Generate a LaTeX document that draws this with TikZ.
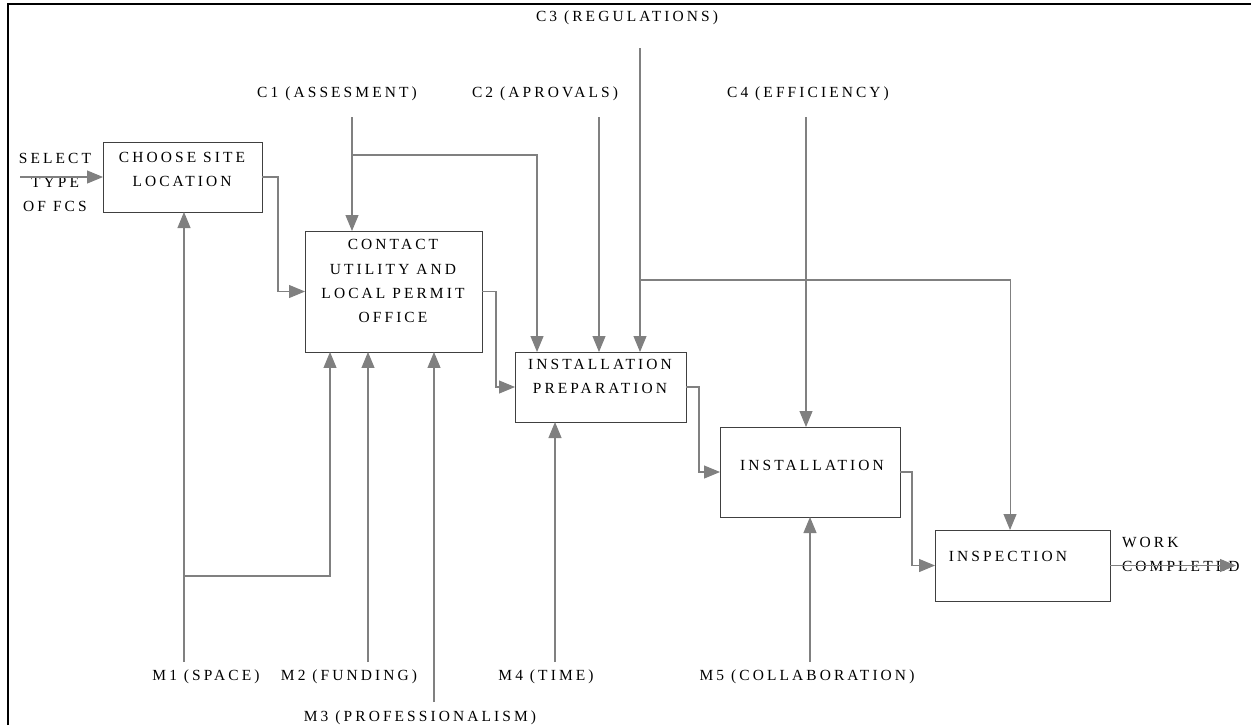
\documentclass[tikz,border=0pt]{standalone}
\usepackage{fontspec}
\setmainfont{Liberation Serif}[LetterSpace=20]
\usetikzlibrary{arrows.meta,calc}

\begin{document}
\begin{tikzpicture}[x=0.02cm, y=-0.02cm,
    every node/.style={font=\fontsize{8.8}{13.7}\selectfont, inner sep=0pt, outer sep=0pt},
    box/.style={draw=black!75, line width=0.5pt},
    lbl/.style={align=center},
    flow/.style={draw=black!50, line width=0.6pt, -{Triangle[length=0.32cm, width=0.26cm]}}]
    % Page and frame
    \useasboundingbox (0,0) rectangle (1251,725);
    \draw[line width=1.1pt] (8,725) -- (8,4) -- (1251,4);

    % Draw the boxes
    \node[box, minimum width=3.18cm, minimum height=1.40cm] (site) at (182.5,177) {};
    \node[box, minimum width=3.54cm, minimum height=2.42cm] (contact) at (393.5,291.5) {};
    \node[box, minimum width=3.42cm, minimum height=1.40cm] (prep) at (600.5,387) {};
    \node[box, minimum width=3.60cm, minimum height=1.80cm] (inst) at (810,472) {};
    \node[box, minimum width=3.50cm, minimum height=1.42cm] (insp) at (1022.5,565.5) {};

    % Add box texts
    \node[lbl] (siteTxt) at (182,169) {CHOOSE SITE\\LOCATION};
    \node[lbl] (contactTxt) at (393,281) {CONTACT\\UTILITY AND\\LOCAL PERMIT\\OFFICE};
    \node[lbl] (prepTxt) at (600,376.5) {INSTALLATION\\PREPARATION};
    \node[lbl] (instTxt) at (812,465) {INSTALLATION};
    \node[lbl] (inspTxt) at (1008,556) {INSPECTION};

    % Input and output
    \node[lbl] (inTxt) at (55,182.5) {SELECT\\TYPE\\OF FCS};
    \node[align=left, anchor=west] (outTxt) at (1122,554) {WORK\\COMPLETED};
    \coordinate (in) at (20,177);
    \coordinate (out) at (1236,565.5);
    \draw[flow] (in) -- (site.west);
    \draw[flow] (insp.east) -- (out);

    % Add arrows between the boxes
    \draw[flow] (site.east) -- ++(16,0) |- (contact.west);
    \draw[flow] (contact.east) -- ++(14,0) |- (prep.west);
    \draw[flow] (prep.east) -- ++(13,0) |- (inst.west);
    \draw[flow] (inst.east) -- ++(12,0) |- (insp.west);

    % Controls from above
    \node (c1) at (337,94) {C1 (ASSESMENT)};
    \node (c2) at (545,94) {C2 (APROVALS)};
    \node (c3) at (627,18) {C3 (REGULATIONS)};
    \node (c4) at (808,94) {C4 (EFFICIENCY)};
    \coordinate (c1top) at (352,117);
    \coordinate (c1fork) at (352,155);
    \coordinate (c2top) at (599,117);
    \coordinate (c3top) at (640,48);
    \coordinate (c3fork) at (640,280);
    \coordinate (c4top) at (806,117);
    \draw[flow] (c1top) -- (c1top |- contact.north);
    \draw[flow] (c1fork) -| ($(prep.north west)+(22,0)$);
    \draw[flow] (c2top) -- (c2top |- prep.north);
    \draw[flow] (c3top) -- (c3top |- prep.north);
    \draw[flow] (c3fork) -| ($(insp.north west)+(75,0)$);
    \draw[flow] (c4top) -- (c4top |- inst.north);

    % Mechanisms from below
    \node (m1) at (206,677) {M1 (SPACE)};
    \node (m2) at (349,677) {M2 (FUNDING)};
    \node (m3) at (420,718) {M3 (PROFESSIONALISM)};
    \node (m4) at (546,677) {M4 (TIME)};
    \node (m5) at (807,677) {M5 (COLLABORATION)};
    \coordinate (m1bot) at (184,662);
    \coordinate (m1fork) at (184,576);
    \coordinate (m2bot) at (368,662);
    \coordinate (m3bot) at (434,702);
    \coordinate (m4bot) at (555,662);
    \coordinate (m5bot) at (810,662);
    \draw[flow] (m1bot) -- (m1bot |- site.south);
    \draw[flow] (m1fork) -| ($(contact.south west)+(25,0)$);
    \draw[flow] (m2bot) -- (m2bot |- contact.south);
    \draw[flow] (m3bot) -- (m3bot |- contact.south);
    \draw[flow] (m4bot) -- (m4bot |- prep.south);
    \draw[flow] (m5bot) -- (m5bot |- inst.south);
\end{tikzpicture}
\end{document}
